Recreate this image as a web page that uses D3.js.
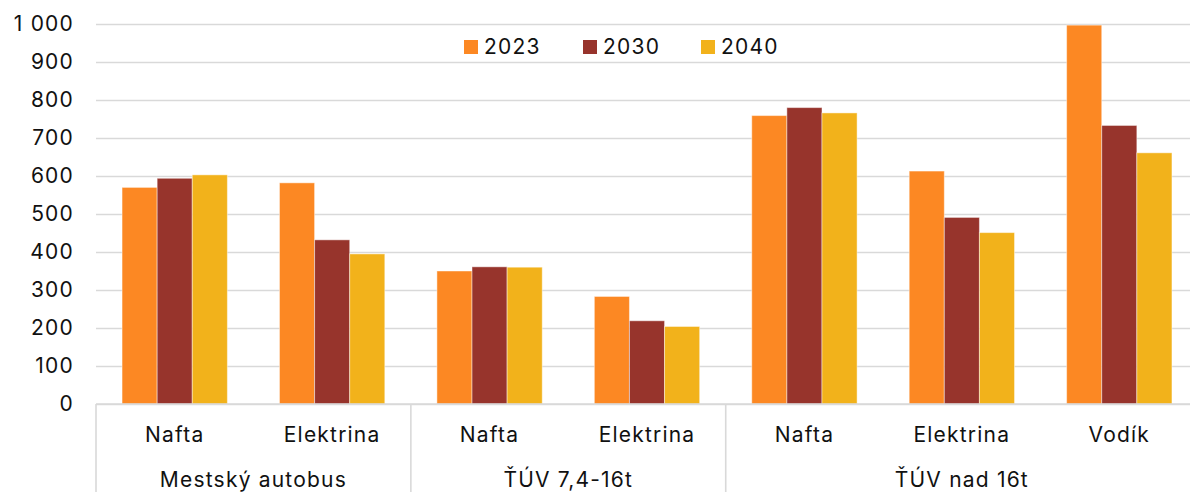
<!DOCTYPE html>
<html lang="sk">
<head>
<meta charset="utf-8" />
<title>Náklady</title>
<script src="https://cdn.jsdelivr.net/npm/d3@7"></script>
<style>
  body { margin: 0; background: #fff; }
  text { font-family: Inter, "DejaVu Sans", sans-serif; fill: #111; letter-spacing: 1.2px; }
</style>
</head>
<body>
<script>
  // data
  const groups = ["Mestský autobus", "ŤÚV 7,4-16t", "ŤÚV nad 16t"];
  const categories = ["Nafta", "Elektrina", "Nafta", "Elektrina", "Nafta", "Elektrina", "Vodík"];
  const categoryGroup = [0, 0, 1, 1, 2, 2, 2];
  const series = ["2023", "2030", "2040"];
  const v2023 = [570, 582, 350, 283, 759, 613, 997];
  const v2030 = [594, 432, 361, 219, 780, 491, 733];
  const v2040 = [603, 395, 360, 204, 766, 451, 661];
  const colors = ["#FC8823", "#97342C", "#F2B21B"];
  const yTicks = [0, 100, 200, 300, 400, 500, 600, 700, 800, 900, 1000];

  const values = [v2023, v2030, v2040];
  const W = 1190, H = 492;
  const margin = {left: 96, right: -8, top: 24, bottom: 88};
  const width = W - margin.left - margin.right;
  const height = H - margin.top - margin.bottom;
  const fontSize = 21;

  const svg = d3.select("body").append("svg")
      .attr("width", W)
      .attr("height", H);

  const plot = svg.append("g")
      .attr("transform", `translate(${margin.left}, ${margin.top})`);

  const x0 = d3.scaleBand(d3.range(categories.length), [0, width]);
  const x1 = d3.scaleBand(series, [0, x0.bandwidth()])
      .paddingInner(0)
      .paddingOuter(0.742);
  const y = d3.scaleLinear([0, 1000], [height, 0]);

  const fmt = d => d3.format(",")(d).replace(",", " ");

  // gridlines + y labels
  const yAxis = plot.append("g")
      .call(d3.axisLeft(y).tickValues(yTicks).tickSize(-width).tickFormat(fmt).tickPadding(22));
  yAxis.select(".domain").remove();
  yAxis.selectAll(".tick line").attr("stroke", "#D9D9D9").attr("stroke-width", 1.6);
  yAxis.selectAll(".tick text").attr("font-size", fontSize).attr("fill", "#111")
      .attr("font-family", null);

  // bars
  const cat = plot.append("g")
      .selectAll("g")
      .data(categories)
      .join("g")
      .attr("transform", (d, i) => `translate(${x0(i)}, 0)`);

  cat.selectAll("rect")
      .data((d, i) => series.map((s, j) => ({s: s, j: j, v: values[j][i]})))
      .join("rect")
      .attr("x", d => x1(d.s))
      .attr("width", x1.bandwidth())
      .attr("y", d => y(d.v))
      .attr("height", d => height - y(d.v))
      .attr("fill", d => colors[d.j])
      .attr("stroke", "#fff")
      .attr("stroke-opacity", 0.45)
      .attr("stroke-width", 1);

  // x axis line and group separators
  plot.append("line")
      .attr("x1", 0).attr("x2", width)
      .attr("y1", height).attr("y2", height)
      .attr("stroke", "#D9D9D9").attr("stroke-width", 1.6);

  const bounds = [0];
  categoryGroup.forEach((g, i) => {
    if (i > 0 && g !== categoryGroup[i - 1]) bounds.push(i);
  });
  plot.append("g")
      .selectAll("line")
      .data(bounds)
      .join("line")
      .attr("x1", d => x0(d)).attr("x2", d => x0(d))
      .attr("y1", height).attr("y2", H - margin.top)
      .attr("stroke", "#D9D9D9").attr("stroke-width", 1.6);

  // category labels
  plot.append("g")
      .selectAll("text")
      .data(categories)
      .join("text")
      .attr("x", (d, i) => x0(i) + x0.bandwidth() / 2)
      .attr("y", height + 31)
      .attr("dy", "0.35em")
      .attr("text-anchor", "middle")
      .attr("font-size", fontSize)
      .text(d => d);

  // group labels
  plot.append("g")
      .selectAll("text")
      .data(groups)
      .join("text")
      .attr("x", (d, g) => {
        const idx = d3.range(categories.length).filter(i => categoryGroup[i] === g);
        return (x0(idx[0]) + x0(idx[idx.length - 1]) + x0.bandwidth()) / 2;
      })
      .attr("y", height + 76)
      .attr("dy", "0.35em")
      .attr("text-anchor", "middle")
      .attr("font-size", fontSize)
      .text(d => d);

  // legend
  const legendX = [464, 583, 701];
  const legend = svg.append("g")
      .selectAll("g")
      .data(series)
      .join("g")
      .attr("transform", (d, i) => `translate(${legendX[i]}, 47)`);
  legend.append("rect")
      .attr("x", 0).attr("y", -7)
      .attr("width", 14).attr("height", 14)
      .attr("fill", (d, i) => colors[i]);
  legend.append("text")
      .attr("x", 20)
      .attr("dy", "0.35em")
      .attr("font-size", fontSize)
      .text(d => d);
</script>
</body>
</html>
